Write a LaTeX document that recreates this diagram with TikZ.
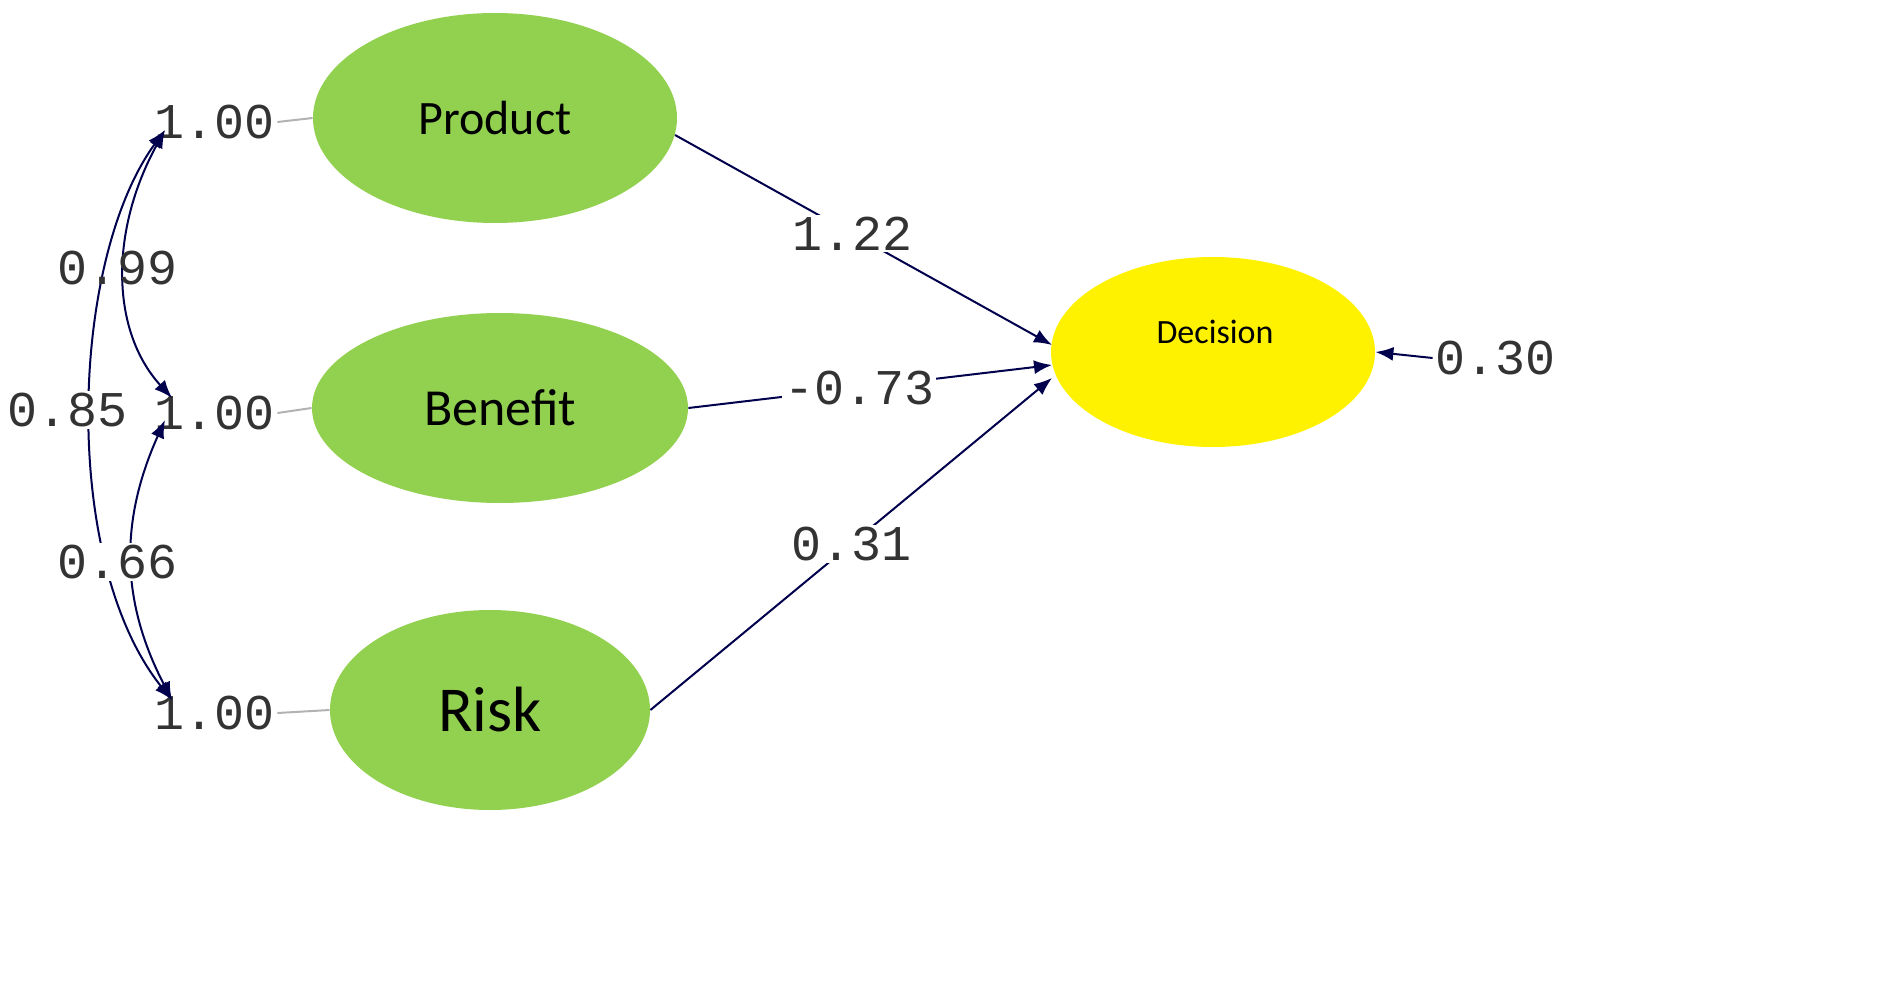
\documentclass[tikz,border=0pt]{standalone}
\usepackage{fontspec}
\setmainfont{Carlito}
\newfontfamily\monof{Liberation Mono}
\usetikzlibrary{arrows.meta,shapes.geometric}
\definecolor{lg}{RGB}{146,208,80}
\begin{document}
\begin{tikzpicture}[x=0.5pt,y=-0.5pt,
  lat/.style={ellipse,fill=lg,inner sep=0},
  num/.style={font=\monof\fontsize{25}{27}\selectfont,text=black!80,fill=white,inner sep=1pt},
  con/.style={draw=blue!30!black,line width=1pt,-{Latex[length=9pt,width=7pt]}},
  cov/.style={draw=blue!30!black,line width=1pt,{Latex[length=9pt,width=7pt]}-{Latex[length=9pt,width=7pt]}}]
\useasboundingbox (0,0) rectangle (1886,1006);
\node[lat,minimum width=182pt,minimum height=105pt] (P) at (495,118) {\fontsize{24}{26}\selectfont Product};
\node[lat,minimum width=188pt,minimum height=95pt] (B) at (500,408) {\fontsize{26}{28}\selectfont Benefit};
\node[lat,minimum width=160pt,minimum height=100pt] (R) at (490,710) {\fontsize{32}{34}\selectfont Risk};
\node[ellipse,fill=yellow,inner sep=0,minimum width=162pt,minimum height=95pt] (D) at (1213,352) {};
\node at (1215,332) {\fontsize{17}{19}\selectfont Decision};
% variance labels
\node[num,fill=none] (v1) at (215,122) {1.00};
\node[num,fill=none] (v2) at (215,413) {1.00};
\node[num,fill=none] (v3) at (215,713) {1.00};
\draw[gray!60,line width=1pt] (v1.east) -- (P.west);
\draw[gray!60,line width=1pt] (v2.east) -- (B.west);
\draw[gray!60,line width=1pt] (v3.east) -- (R.west);
\coordinate (a1) at (165,130);
\coordinate (a2) at (172,398);
\coordinate (a2b) at (165,420);
\coordinate (a3) at (172,700);
% covariances
\draw[cov] (a1) .. controls (110,230) and (110,330) .. (a2);
\draw[cov] (a1) .. controls (70,260) and (60,560) .. (a3);
\draw[cov] (a2b) .. controls (120,520) and (120,600) .. (a3);
\node[num,fill=none] (c1) at (118,268) {0.99};
\node[num] (c2) at (68,410) {0.85};
\node[num] (c3) at (118,562) {0.66};
% paths
\coordinate (d1) at (1052,345);
\coordinate (d2) at (1052,365);
\coordinate (d3) at (1052,378);
\coordinate (p1) at (675,135);
\draw[con] (p1) -- (d1) node[num,pos=0.47] {1.22};
\draw[con] (B.east) -- (d2) node[num,pos=0.47] {-0.73};
\draw[con] (R.east) -- (d3) node[num,pos=0.5] {0.31};
\node[num] (e) at (1495,358) {0.30};
\draw[con] (e.west) -- (D.east);
\end{tikzpicture}
\end{document}
